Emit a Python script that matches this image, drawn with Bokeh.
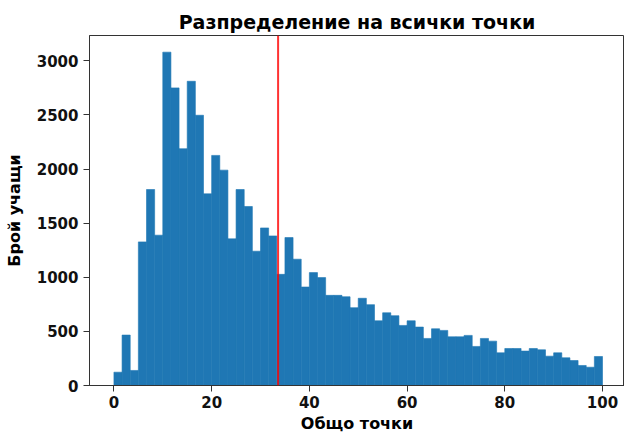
import numpy as np
from bokeh.plotting import figure
from bokeh.models import Span, Range1d, FixedTicker
from bokeh.embed import file_html
from bokeh.resources import INLINE

# histogram of total points (60 bins from 0 to 100)
score_min = 0
score_max = 100
n_bins = 60
counts = [123, 466, 139, 1327, 1811, 1389, 3080, 2750, 2188, 2811,
          2497, 1771, 2126, 1990, 1355, 1811, 1654, 1241, 1456, 1382,
          1027, 1367, 1167, 910, 1043, 997, 833, 833, 820, 719,
          806, 747, 598, 672, 645, 555, 598, 540, 435, 524,
          509, 450, 450, 463, 361, 435, 410, 302, 342, 342,
          318, 342, 330, 271, 302, 256, 231, 185, 169, 268]
mean_score = 33.6
x_ticks = [0, 20, 40, 60, 80, 100]
y_ticks = [0, 500, 1000, 1500, 2000, 2500, 3000]

edges = np.linspace(score_min, score_max, n_bins + 1)

FONT = "DejaVu Sans"
p = figure(width=624, height=436, output_backend="svg", toolbar_location=None,
           x_range=Range1d(-5, 104.5), y_range=Range1d(0, max(counts) * 1.05),
           min_border_left=89, min_border_right=0, min_border_top=35,
           min_border_bottom=51)

p.quad(left=edges[:-1], right=edges[1:], bottom=0, top=counts,
       fill_color="#1f77b4", line_color="#1f77b4", line_width=0.6)

p.add_layout(Span(location=mean_score, dimension="height", line_color="red",
                  line_width=2, line_alpha=0.8))

p.title.text = "Разпределение на всички точки"
p.title.align = "center"
p.title.text_font = FONT
p.title.text_font_size = "19px"
p.title.text_font_style = "bold"
p.title.text_color = "black"
p.title.standoff = 6

p.xaxis.axis_label = "Общо точки"
p.yaxis.axis_label = "Брой учащи"
for ax in (p.xaxis, p.yaxis):
    ax.axis_label_text_font = FONT
    ax.axis_label_text_font_size = "16px"
    ax.axis_label_text_font_style = "bold"
    ax.axis_label_text_color = "black"
    ax.major_label_text_font = FONT
    ax.major_label_text_font_size = "15px"
    ax.major_label_text_font_style = "bold"
    ax.major_label_text_color = "#111111"
    ax.minor_tick_line_color = None
    ax.major_tick_in = 0
    ax.major_tick_out = 6
    ax.major_tick_line_color = "#333333"
    ax.axis_line_color = "#333333"
p.xaxis.ticker = FixedTicker(ticks=x_ticks)
p.yaxis.ticker = FixedTicker(ticks=y_ticks)
p.xaxis.major_label_standoff = 4
p.yaxis.major_label_standoff = 5
p.yaxis.axis_label_standoff = 10
p.xaxis.axis_label_standoff = 3

p.grid.visible = False
p.outline_line_color = "#333333"
p.background_fill_color = "white"
p.border_fill_color = "white"

open("out.html", "w").write(file_html(p, INLINE))
